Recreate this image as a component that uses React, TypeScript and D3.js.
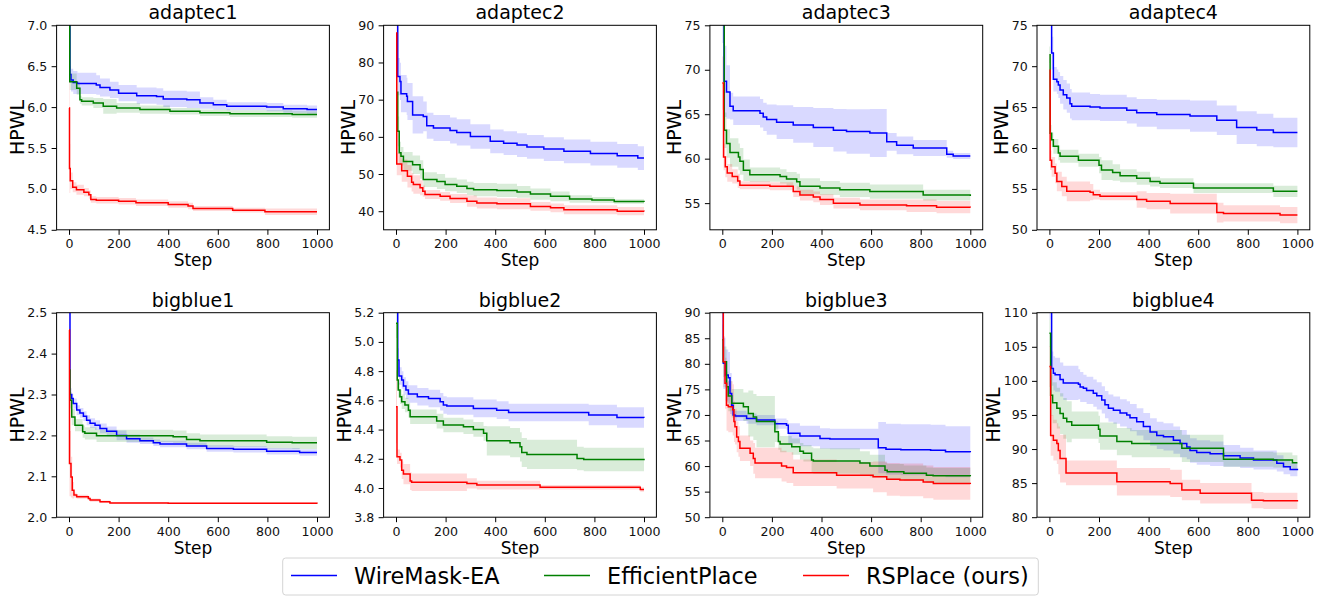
import React, { useEffect, useRef } from "react"
import * as d3 from "d3"

type Pt = [number, number, number] // [step, mean, half band]

const W = 1317
const H = 597
const FONT = "DejaVu Sans, sans-serif"

const stepTicks = [0, 200, 400, 600, 800, 1000]
const benchmarks = ["adaptec1", "adaptec2", "adaptec3", "adaptec4", "bigblue1", "bigblue2", "bigblue3", "bigblue4"]
const methods = ["WireMask-EA", "EfficientPlace", "RSPlace (ours)"]
const methodColors = ["#0000ff", "#008000", "#ff0000"]

const yLimits = [
	[4.5, 7.0],
	[35, 90],
	[52, 75],
	[50, 75],
	[2.0, 2.5],
	[3.8, 5.2],
	[50, 90],
	[80, 110],
]
const yTicksAdaptec1 = [4.5, 5.0, 5.5, 6.0, 6.5, 7.0]
const yTicksAdaptec2 = [40, 50, 60, 70, 80, 90]
const yTicksAdaptec3 = [55, 60, 65, 70, 75]
const yTicksAdaptec4 = [50, 55, 60, 65, 70, 75]
const yTicksBigblue1 = [2.0, 2.1, 2.2, 2.3, 2.4, 2.5]
const yTicksBigblue2 = [3.8, 4.0, 4.2, 4.4, 4.6, 4.8, 5.0, 5.2]
const yTicksBigblue3 = [50, 55, 60, 65, 70, 75, 80, 85, 90]
const yTicksBigblue4 = [80, 85, 90, 95, 100, 105, 110]
const yDecimals = [1, 0, 0, 0, 1, 1, 0, 0]

// ---- adaptec1
const a1Wire: Pt[] = [[0, 7.6, 0.3], [4, 6.4, 0.1], [8, 6.33, 0.14], [17, 6.3, 0.14], [34, 6.29, 0.13], [110, 6.27, 0.12], [125, 6.24, 0.11], [165, 6.21, 0.1], [200, 6.17, 0.1], [273, 6.14, 0.1], [353, 6.13, 0.1], [380, 6.1, 0.1], [475, 6.09, 0.1], [528, 6.05, 0.07], [582, 6.03, 0.06], [636, 6.01, 0.05], [797, 6.0, 0.05], [864, 5.98, 0.05], [960, 5.97, 0.05], [1000, 5.97, 0.05]]
const a1Eff: Pt[] = [[0, 7.2, 0.2], [3, 6.31, 0.1], [31, 6.23, 0.08], [44, 6.09, 0.05], [51, 6.07, 0.05], [98, 6.05, 0.06], [138, 6.01, 0.09], [192, 5.99, 0.06], [286, 5.97, 0.05], [407, 5.95, 0.04], [528, 5.93, 0.04], [649, 5.92, 0.04], [900, 5.91, 0.04], [1000, 5.91, 0.04]]
const a1Rs: Pt[] = [[0, 5.99, 0.6], [2, 5.25, 0.3], [5, 5.1, 0.1], [15, 5.02, 0.06], [30, 4.99, 0.06], [60, 4.96, 0.05], [80, 4.93, 0.05], [88, 4.87, 0.04], [110, 4.86, 0.04], [200, 4.85, 0.04], [270, 4.83, 0.04], [400, 4.81, 0.04], [480, 4.79, 0.04], [500, 4.76, 0.03], [660, 4.74, 0.03], [790, 4.72, 0.04], [1000, 4.72, 0.04]]

// ---- adaptec2
const a2Wire: Pt[] = [[0, 95, 5], [7, 76.2, 5], [16, 74.9, 5], [20, 71.6, 5], [43, 70.9, 5], [46, 69.5, 5], [67, 65.9, 5], [110, 65.5, 4], [124, 63, 3.5], [151, 62.4, 3.5], [218, 61.7, 3.5], [245, 61.2, 3.5], [300, 60.1, 3.3], [380, 58.8, 3.2], [434, 58.3, 3.2], [488, 57.8, 3.2], [528, 57.3, 3.2], [596, 56.7, 3.2], [677, 56.1, 3.2], [784, 55.5, 3.2], [892, 54.9, 3.2], [975, 54.3, 3.2], [1000, 54.3, 3.2]]
const a2Eff: Pt[] = [[0, 72, 4], [7, 61.5, 4], [13, 55.7, 3], [20, 54.8, 2.5], [30, 53.4, 2.5], [67, 52.5, 2.5], [97, 51.2, 2.5], [110, 48.5, 2], [165, 48, 2], [198, 47.2, 1.8], [245, 46.7, 1.8], [286, 46.1, 1.8], [313, 45.8, 1.8], [407, 45.6, 1.8], [488, 45.2, 1.6], [542, 44.6, 1.5], [623, 44, 1.3], [700, 43.3, 1], [790, 43, 0.8], [880, 42.6, 0.6], [1000, 42.5, 0.6]]
const a2Rs: Pt[] = [[0, 87.9, 5], [3, 52.7, 3], [23, 50.9, 3], [46, 49.4, 3], [63, 47.8, 2.5], [70, 47.2, 2.5], [97, 46.3, 2], [108, 45.4, 1.5], [117, 44.5, 1.2], [178, 44, 1.2], [218, 43.4, 1.2], [286, 42.7, 1.5], [326, 42.2, 1.5], [407, 42, 1.5], [542, 41.3, 1.2], [623, 40.9, 1.2], [677, 40.4, 1.2], [892, 40, 1.1], [1000, 39.9, 1.1]]

// ---- adaptec3
const a3Wire: Pt[] = [[0, 78, 5], [7, 68.7, 4], [17, 67.5, 3], [31, 65.9, 1.5], [44, 65.4, 1.6], [152, 65.1, 1.6], [165, 64.7, 1.6], [179, 64.4, 1.7], [219, 64.1, 1.9], [286, 63.8, 2], [367, 63.5, 2.2], [448, 63.2, 2.4], [501, 63.05, 2.5], [595, 62.9, 2.7], [663, 61.9, 1.0], [703, 61.5, 1.0], [770, 61.2, 0.9], [905, 60.5, 0.4], [931, 60.3, 0.35], [1000, 60.3, 0.35]]
const a3Eff: Pt[] = [[0, 78, 3], [8, 63.2, 2], [17, 61.7, 1.6], [31, 60.7, 1.6], [65, 60.2, 1.5], [71, 59.7, 1.5], [85, 58.7, 1.2], [111, 58.2, 0.8], [233, 58.0, 0.8], [259, 57.7, 0.8], [300, 57.4, 0.9], [313, 56.9, 0.9], [394, 56.7, 0.8], [474, 56.5, 0.8], [595, 56.3, 0.8], [810, 55.9, 0.6], [1000, 55.8, 0.6]]
const a3Rs: Pt[] = [[0, 68.5, 3], [5, 60.2, 1.5], [12, 59.1, 1.2], [20, 58.4, 1], [40, 58.0, 0.8], [62, 57.5, 0.8], [71, 57.0, 0.45], [192, 56.9, 0.45], [286, 56.3, 0.6], [313, 55.9, 0.6], [367, 55.7, 0.6], [394, 55.4, 0.6], [448, 55.0, 0.6], [555, 54.8, 0.6], [743, 54.7, 0.7], [864, 54.55, 0.7], [1000, 54.5, 0.7]]

// ---- adaptec4
const a4Wire: Pt[] = [[0, 78, 3], [9, 71.6, 2], [16, 68.4, 1.5], [30, 68.1, 1.5], [36, 67.7, 1.6], [43, 67.1, 1.7], [56, 66.5, 1.8], [70, 66.1, 1.8], [83, 65.4, 1.8], [90, 65.1, 1.7], [164, 65.0, 1.6], [204, 64.9, 1.6], [312, 64.6, 1.6], [352, 64.3, 1.7], [433, 64.1, 1.8], [567, 63.9, 1.9], [675, 63.4, 1.8], [755, 62.5, 2], [836, 62.2, 2], [903, 61.9, 1.8], [1000, 61.9, 1.6]]
const a4Eff: Pt[] = [[0, 71.4, 1], [3, 61.8, 1], [9, 61, 0.9], [16, 60.2, 0.9], [36, 59.4, 0.9], [43, 59.0, 0.8], [117, 58.5, 0.8], [200, 57.9, 1.0], [210, 57.3, 1.2], [255, 57.0, 1.0], [285, 56.6, 0.8], [352, 56.3, 0.8], [406, 55.9, 0.6], [446, 55.7, 0.6], [581, 55.1, 0.6], [903, 54.7, 0.7], [1000, 54.7, 0.7]]
const a4Rs: Pt[] = [[0, 69.5, 2], [3, 58.5, 1.2], [9, 57.7, 1.2], [23, 56.9, 1.2], [30, 55.9, 1.2], [50, 55.3, 1.2], [70, 54.7, 1.2], [164, 54.6, 1.0], [177, 54.3, 0.6], [204, 54.1, 0.5], [352, 53.7, 1.0], [392, 53.5, 1.0], [487, 53.2, 1.2], [675, 52.1, 1.2], [702, 52.0, 1.0], [930, 51.8, 1.0], [1000, 51.8, 1.0]]

// ---- bigblue1
const b1Wire: Pt[] = [[0, 2.6, 0.05], [4, 2.30, 0.015], [11, 2.29, 0.012], [17, 2.278, 0.012], [31, 2.262, 0.012], [44, 2.255, 0.012], [58, 2.247, 0.012], [71, 2.237, 0.012], [85, 2.23, 0.012], [105, 2.225, 0.012], [125, 2.217, 0.012], [152, 2.21, 0.012], [192, 2.2, 0.012], [232, 2.192, 0.01], [286, 2.187, 0.008], [340, 2.182, 0.008], [367, 2.179, 0.008], [474, 2.174, 0.008], [555, 2.168, 0.008], [663, 2.166, 0.008], [797, 2.161, 0.008], [930, 2.158, 0.008], [1000, 2.158, 0.008]]
const b1Eff: Pt[] = [[0, 2.36, 0.03], [4, 2.286, 0.02], [11, 2.245, 0.02], [24, 2.225, 0.015], [55, 2.209, 0.015], [64, 2.205, 0.015], [111, 2.199, 0.015], [420, 2.197, 0.015], [474, 2.19, 0.015], [528, 2.187, 0.015], [797, 2.183, 0.015], [900, 2.182, 0.015], [1000, 2.182, 0.015]]
const b1Rs: Pt[] = [[0, 2.458, 0.1], [2, 2.131, 0.08], [8, 2.098, 0.05], [13, 2.066, 0.02], [20, 2.054, 0.006], [31, 2.05, 0.005], [78, 2.046, 0.004], [85, 2.042, 0.004], [125, 2.038, 0.003], [165, 2.035, 0.002], [400, 2.034, 0.002], [1000, 2.033, 0.002]]

// ---- bigblue2
const b2Wire: Pt[] = [[0, 5.4, 0.1], [7, 4.876, 0.08], [12, 4.766, 0.06], [23, 4.739, 0.06], [30, 4.698, 0.06], [40, 4.67, 0.06], [50, 4.643, 0.06], [86, 4.625, 0.06], [131, 4.613, 0.06], [178, 4.59, 0.06], [191, 4.568, 0.06], [205, 4.561, 0.06], [312, 4.545, 0.06], [406, 4.533, 0.06], [454, 4.517, 0.06], [777, 4.499, 0.07], [891, 4.483, 0.07], [1000, 4.48, 0.07]]
const b2Eff: Pt[] = [[0, 5.127, 0.1], [5, 4.739, 0.06], [9, 4.67, 0.05], [16, 4.625, 0.05], [23, 4.59, 0.05], [36, 4.568, 0.05], [50, 4.533, 0.05], [57, 4.488, 0.05], [164, 4.458, 0.05], [191, 4.431, 0.05], [272, 4.419, 0.05], [312, 4.401, 0.05], [353, 4.374, 0.05], [366, 4.323, 0.1], [460, 4.31, 0.1], [500, 4.282, 0.1], [507, 4.243, 0.1], [528, 4.23, 0.1], [730, 4.202, 0.08], [757, 4.195, 0.08], [1000, 4.19, 0.08]]
const b2Rs: Pt[] = [[0, 4.556, 0.25], [4, 4.214, 0.05], [16, 4.191, 0.05], [23, 4.122, 0.06], [30, 4.095, 0.07], [57, 4.047, 0.06], [63, 4.04, 0.06], [286, 4.031, 0.035], [326, 4.02, 0.03], [581, 4.005, 0.015], [985, 3.99, 0.015], [1000, 3.99, 0.015]]

// ---- bigblue3
const b3Wire: Pt[] = [[0, 95, 5], [4, 80.1, 5], [13, 77.8, 5], [24, 77.3, 5], [31, 74.2, 4], [38, 71.9, 2], [44, 70, 1], [51, 69.8, 1], [98, 69.3, 1], [138, 69, 1], [212, 68.3, 1], [259, 68, 1], [266, 66.4, 2], [313, 65.9, 2], [394, 65.4, 2], [434, 65.3, 2], [629, 63.6, 5], [660, 63.3, 5], [720, 63.2, 5], [840, 63.1, 5], [900, 62.8, 5], [1000, 62.7, 5]]
const b3Eff: Pt[] = [[0, 84.7, 3], [4, 80.4, 3], [17, 75.5, 3], [24, 73.7, 3], [38, 72.3, 2.8], [85, 71.6, 2.8], [105, 70.3, 4.5], [125, 69.6, 4.5], [138, 68.7, 5], [212, 66.7, 2], [226, 64.8, 1.6], [233, 64.3, 1.6], [280, 63.8, 1.6], [313, 62.9, 1.6], [327, 62.5, 1.6], [360, 61.2, 2.5], [367, 61.0, 2.5], [555, 60.6, 2.3], [595, 60, 2.2], [656, 59.2, 1.5], [665, 58.9, 1.5], [732, 58.6, 1.5], [823, 58.2, 1.5], [850, 58.1, 1.5], [1000, 58.0, 1.5]]
const b3Rs: Pt[] = [[0, 95, 5], [4, 80.4, 5], [11, 76.2, 5], [17, 71.9, 5], [24, 71.6, 5], [42, 71, 5], [47, 68.7, 4], [51, 67.7, 3.5], [58, 65.7, 3], [65, 64.8, 3], [71, 63.5, 2.5], [112, 62.5, 2.5], [125, 61.5, 3], [132, 60.6, 3], [239, 60, 3], [259, 59.7, 3], [286, 58.7, 2.6], [461, 58.2, 2.6], [608, 57.9, 3], [663, 57.4, 3.2], [716, 57.3, 3.2], [810, 56.9, 3.2], [851, 56.6, 3.2], [1000, 56.5, 3.2]]

// ---- bigblue4
const b4Wire: Pt[] = [[0, 112, 3], [9, 101.8, 2.5], [16, 101.1, 2.5], [23, 100.9, 2.5], [43, 100.2, 2.5], [56, 99.7, 2.5], [117, 99.5, 2.2], [124, 99.1, 2.2], [137, 98.9, 2], [150, 98.6, 2], [177, 98.2, 2], [191, 97.8, 2], [211, 97.2, 2], [224, 96.5, 2], [238, 96.0, 2], [258, 95.7, 2], [285, 95.3, 2], [312, 95.0, 2], [325, 94.6, 2], [352, 94.0, 2], [379, 93.3, 2], [406, 92.5, 2], [433, 92.0, 2], [460, 91.8, 2], [500, 91.3, 2], [527, 90.8, 2], [554, 90.3, 1.8], [567, 89.8, 1.8], [594, 89.5, 1.8], [648, 89.3, 1.8], [702, 89.0, 1.6], [769, 88.7, 1.5], [823, 88.4, 1.4], [917, 87.9, 1.2], [944, 87.4, 1.1], [971, 87.0, 1.0], [1000, 86.9, 1.0]]
const b4Eff: Pt[] = [[0, 107, 2], [5, 97.9, 3], [13, 96.8, 3], [30, 96, 3], [43, 95.2, 3], [56, 94.5, 3], [70, 94, 3], [90, 93.5, 2], [198, 92.9, 2], [204, 91.9, 2], [272, 91.1, 2], [332, 90.8, 2], [534, 90.1, 2], [702, 88.5, 1.1], [903, 88.4, 1.1], [980, 88.0, 1.1], [1000, 88.0, 1.1]]
const b4Rs: Pt[] = [[0, 102.1, 3], [5, 92.0, 3], [16, 91.3, 3], [30, 90.8, 3], [36, 89.8, 3.5], [43, 88.6, 3.5], [67, 86.5, 1.8], [272, 85.2, 2], [487, 84.95, 2], [534, 84.0, 1.5], [608, 83.5, 1.5], [815, 82.5, 1.2], [863, 82.4, 1.2], [1000, 82.3, 1.2]]

const panels = [
	{ yTicks: yTicksAdaptec1, series: [a1Wire, a1Eff, a1Rs] },
	{ yTicks: yTicksAdaptec2, series: [a2Wire, a2Eff, a2Rs] },
	{ yTicks: yTicksAdaptec3, series: [a3Wire, a3Eff, a3Rs] },
	{ yTicks: yTicksAdaptec4, series: [a4Wire, a4Eff, a4Rs] },
	{ yTicks: yTicksBigblue1, series: [b1Wire, b1Eff, b1Rs] },
	{ yTicks: yTicksBigblue2, series: [b2Wire, b2Eff, b2Rs] },
	{ yTicks: yTicksBigblue3, series: [b3Wire, b3Eff, b3Rs] },
	{ yTicks: yTicksBigblue4, series: [b4Wire, b4Eff, b4Rs] },
]

// layout of the 2x4 grid
const frameLefts = [56.6, 383.6, 709.9, 1037]
const frameTops = [25.3, 312.7]
const frameW = 272.8
const frameH = 204.5

function App() {
	const ref = useRef<SVGSVGElement | null>(null)

	useEffect(() => {
		const svg = d3.select(ref.current)
		svg.selectAll("*").remove()
		svg.append("rect").attr("width", W).attr("height", H).attr("fill", "#fff")

		panels.forEach((p, i) => {
			const left = frameLefts[i % 4]
			const top = frameTops[Math.floor(i / 4)]
			const x = d3.scaleLinear().domain([-50, 1050]).range([left, left + frameW])
			const y = d3.scaleLinear().domain(yLimits[i]).range([top + frameH, top])
			const g = svg.append("g")

			const clipId = "clip" + i
			g.append("clipPath").attr("id", clipId).append("rect").attr("x", left).attr("y", top).attr("width", frameW).attr("height", frameH)
			const plot = g.append("g").attr("clip-path", `url(#${clipId})`)

			const area = d3
				.area<Pt>()
				.x(d => x(d[0]))
				.y0(d => y(d[1] - d[2]))
				.y1(d => y(d[1] + d[2]))
				.curve(d3.curveStepAfter)
			const line = d3
				.line<Pt>()
				.x(d => x(d[0]))
				.y(d => y(d[1]))
				.curve(d3.curveStepAfter)

			p.series.forEach((s, k) => {
				plot.append("path").attr("d", area(s)).attr("fill", methodColors[k]).attr("fill-opacity", 0.15)
			})
			p.series.forEach((s, k) => {
				plot.append("path").attr("d", line(s)).attr("fill", "none").attr("stroke", methodColors[k]).attr("stroke-width", 1.5)
			})

			// axes
			const xAxis = d3.axisBottom(x).tickValues(stepTicks).tickSize(5).tickPadding(4.6).tickFormat(d3.format("d"))
			const yAxis = d3
				.axisLeft(y)
				.tickValues(p.yTicks)
				.tickSize(5)
				.tickPadding(4.3)
				.tickFormat(d3.format(yDecimals[i] ? ".1f" : "d"))

			const gx = g.append("g").attr("transform", `translate(0,${top + frameH})`).call(xAxis)
			const gy = g.append("g").attr("transform", `translate(${left},0)`).call(yAxis)
			;[gx, gy].forEach(a => {
				a.select(".domain").remove()
				a.selectAll("line").attr("stroke", "#000").attr("stroke-width", 1)
				a.selectAll("text").attr("font-family", FONT).attr("font-size", 12.6).attr("fill", "#111")
			})

			g.append("rect")
				.attr("x", left)
				.attr("y", top)
				.attr("width", frameW)
				.attr("height", frameH)
				.attr("fill", "none")
				.attr("stroke", "#000")
				.attr("stroke-width", 1)

			// label widths decide where HPWL goes
			let maxW = 0
			gy.selectAll<SVGTextElement, unknown>("text").each(function () {
				maxW = Math.max(maxW, this.getBBox().width)
			})
			const bx = left - 9.3 - maxW - 3.2
			const cy = top + frameH / 2
			g.append("text")
				.attr("x", bx)
				.attr("y", cy)
				.attr("transform", `rotate(-90,${bx},${cy})`)
				.attr("text-anchor", "middle")
				.attr("font-family", FONT)
				.attr("font-size", 19)
				.text("HPWL")

			g.append("text")
				.attr("x", left + frameW / 2)
				.attr("y", top + frameH + 36.5)
				.attr("text-anchor", "middle")
				.attr("font-family", FONT)
				.attr("font-size", 17)
				.text("Step")

			g.append("text")
				.attr("x", left + frameW / 2)
				.attr("y", top - 6)
				.attr("text-anchor", "middle")
				.attr("font-family", FONT)
				.attr("font-size", 19)
				.text(benchmarks[i])
		})

		// legend
		const lg = svg.append("g")
		lg.append("rect")
			.attr("x", 282.7)
			.attr("y", 558)
			.attr("width", 755.6)
			.attr("height", 37)
			.attr("rx", 3)
			.attr("fill", "#fff")
			.attr("stroke", "#d4d4d4")
			.attr("stroke-width", 1)
		const legendX = [291, 544, 803]
		methods.forEach((m, k) => {
			lg.append("line")
				.attr("x1", legendX[k])
				.attr("x2", legendX[k] + 46)
				.attr("y1", 575.5)
				.attr("y2", 575.5)
				.attr("stroke", methodColors[k])
				.attr("stroke-width", 1.5)
			lg.append("text")
				.attr("x", legendX[k] + 63)
				.attr("y", 584)
				.attr("font-family", FONT)
				.attr("font-size", 22.4)
				.text(m)
		})
	}, [])

	return (
		<div style={{ position: "absolute", left: 0, top: 0 }}>
			<svg ref={ref} width={W} height={H} style={{ display: "block" }} />
		</div>
	)
}

export default App
